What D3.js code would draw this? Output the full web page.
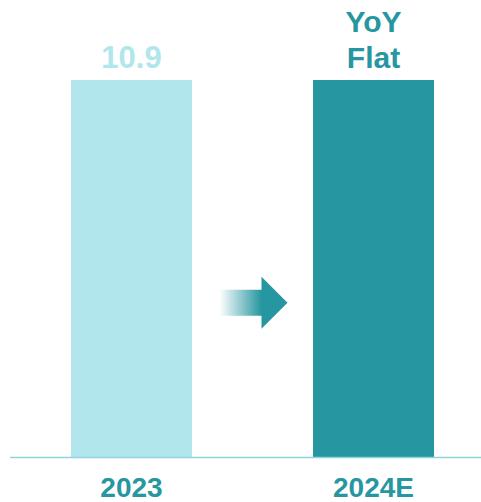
<!DOCTYPE html>
<html>
<head>
<meta charset="utf-8">
<style>
  body { margin: 0; background: #fff; }
  text { font-family: "Liberation Sans", Arial, sans-serif; font-weight: bold; }
</style>
<script src="https://d3js.org/d3.v7.min.js"></script>
</head>
<body>
<svg width="481" height="502"></svg>
<script>
var categories = ["2023", "2024E"];
var values = [10.9, 10.9];
var topLabels = [["10.9"], ["YoY", "Flat"]];
var barColors = ["#b0e6ec", "#2696a0"];
var labelColors = ["#b0e6ec", "#2696a0"];

var svg = d3.select("svg");
var baseY = 457.5, topY = 80;

var x = d3.scaleBand().domain(categories).range([10.5, 494.5])
    .paddingInner(0.5).paddingOuter(0.25);
var y = d3.scaleLinear().domain([0, d3.max(values)]).range([baseY, topY]);

// gradient for arrow
var defs = svg.append("defs");
var grad = defs.append("linearGradient").attr("id", "arrowGrad")
    .attr("x1", "0%").attr("x2", "100%");
grad.append("stop").attr("offset", "0%").attr("stop-color", "#2696a0").attr("stop-opacity", 0);
grad.append("stop").attr("offset", "62%").attr("stop-color", "#2696a0").attr("stop-opacity", 1);
grad.append("stop").attr("offset", "100%").attr("stop-color", "#2696a0").attr("stop-opacity", 1);

svg.selectAll(".bar").data(values).enter().append("rect")
  .attr("class", "bar")
  .attr("x", function(d, i) { return x(categories[i]); })
  .attr("y", function(d) { return y(d); })
  .attr("width", x.bandwidth())
  .attr("height", function(d) { return baseY - y(d); })
  .attr("fill", function(d, i) { return barColors[i]; });

// axis line
svg.append("line")
  .attr("x1", 10).attr("x2", 481)
  .attr("y1", baseY).attr("y2", baseY)
  .attr("stroke", "#8fd4de").attr("stroke-width", 1.5);

// category labels
svg.selectAll(".cat").data(categories).enter().append("text")
  .attr("class", "cat")
  .attr("x", function(d) { return x(d) + x.bandwidth() / 2; })
  .attr("y", 497)
  .attr("text-anchor", "middle")
  .attr("font-size", 28)
  .attr("fill", "#2696a0")
  .text(function(d) { return d; });

// labels above bars
topLabels.forEach(function(lines, i) {
  var cx = x(categories[i]) + x.bandwidth() / 2;
  var n = lines.length;
  lines.forEach(function(t, j) {
    svg.append("text")
      .attr("x", cx)
      .attr("y", y(values[i]) - 12 - (n - 1 - j) * 36)
      .attr("text-anchor", "middle")
      .attr("font-size", n > 1 ? 30 : 31)
      .attr("fill", labelColors[i])
      .text(t);
  });
});

// arrow between bars
var gapL = x(categories[0]) + x.bandwidth();
var gapR = x(categories[1]);
var mid = (gapL + gapR) / 2;
var ay = y(values[0] * 0.41);
var ax0 = mid - 33, ax1 = mid + 9, ax2 = mid + 35;
var path = d3.path();
path.moveTo(ax0, ay - 13);
path.lineTo(ax1, ay - 13);
path.lineTo(ax1, ay - 26);
path.lineTo(ax2, ay);
path.lineTo(ax1, ay + 26);
path.lineTo(ax1, ay + 13);
path.lineTo(ax0, ay + 13);
path.closePath();
svg.append("path").attr("d", path.toString()).attr("fill", "url(#arrowGrad)");
</script>
</body>
</html>
